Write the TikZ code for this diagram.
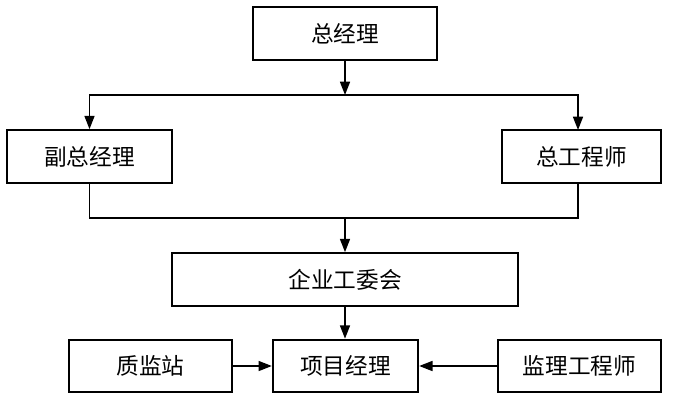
\documentclass[tikz,border=0pt]{standalone}
\usepackage{fontspec}
\setmainfont{Noto Sans CJK SC}
\usetikzlibrary{arrows.meta}

\tikzset{
  box/.style={draw, line width=1.5pt, inner sep=0pt, minimum height=39.5pt, font=\fontsize{17}{19}\selectfont},
  arr/.style={line width=1.2pt, -{Triangle[length=10pt,width=7.5pt]}},
  link/.style={line width=1.2pt}
}

\begin{document}
\begin{tikzpicture}[x=0.75pt,y=-0.75pt]
        \useasboundingbox (0,0) rectangle (673,411);

        \node[box, minimum width=138pt] (gm) at (345, 33.5) {总经理};
        \node[box, minimum width=124pt] (vgm) at (89.5, 156.5) {副总经理};
        \node[box, minimum width=119pt] (chief) at (581.5, 156.5) {总工程师};
        \node[box, minimum width=259pt] (union) at (345, 279.5) {企业工委会};
        \node[box, minimum width=109pt] (pm) at (345.5, 366) {项目经理};
        \node[box, minimum width=122pt] (qs) at (150.5, 366) {质监站};
        \node[box, minimum width=122pt] (sup) at (579.5, 366) {监理工程师};

        \coordinate (split) at (345, 95);
        \coordinate (join) at (345, 218);
        \coordinate (chieftop) at (578, 130);
        \coordinate (chiefbot) at (578, 183);

        \draw[arr] (gm.south) -- (split);
        \draw[arr] (split) -| (vgm.north);
        \draw[arr] (split) -| (chieftop);

        \draw[link] (vgm.south) |- (join) -| (chiefbot);
        \draw[arr] (join) -- (union.north);

        \draw[arr] (union.south) -- (union.south |- pm.north);
        \draw[arr] (qs.east) -- (pm.west);
        \draw[arr] (sup.west) -- (pm.east);
    \end{tikzpicture}
\end{document}
